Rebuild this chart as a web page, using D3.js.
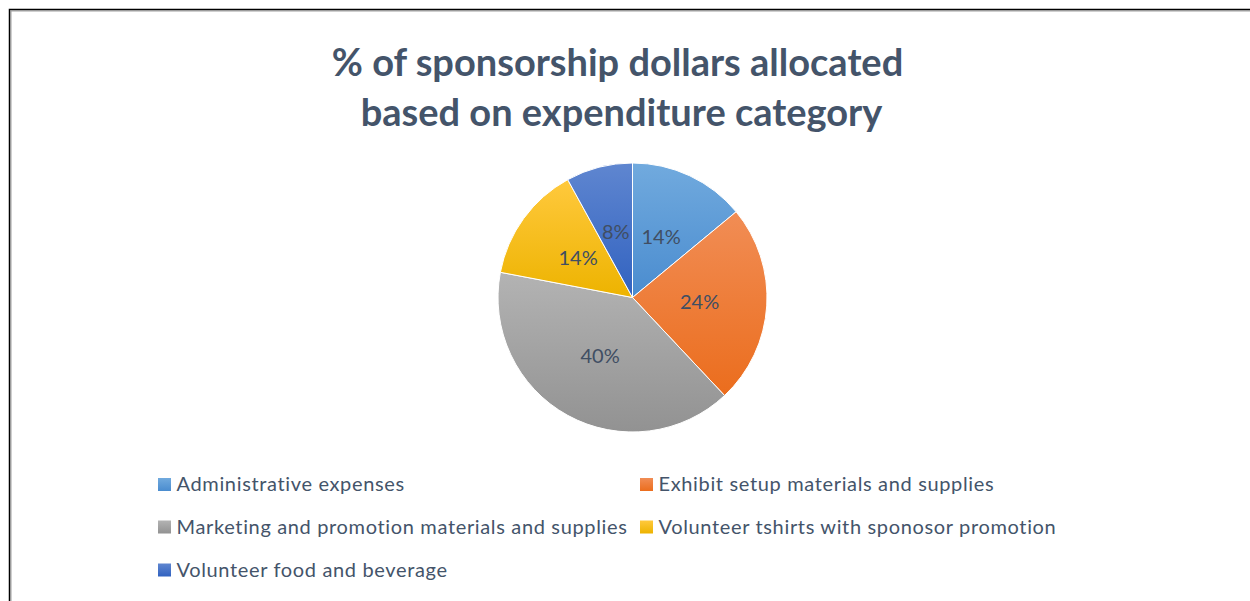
<!DOCTYPE html>
<html>
<head>
<meta charset="utf-8">
<script src="https://cdn.jsdelivr.net/npm/d3@7"></script>
<style>
  body { margin: 0; background: #fff; }
  svg { display: block; font-family: Lato, 'Open Sans', sans-serif; }
</style>
</head>
<body>
<svg id="chart" width="1250" height="601"></svg>
<script>
var categories = [
  'Administrative expenses',
  'Exhibit setup materials and supplies',
  'Marketing and promotion materials and supplies',
  'Volunteer tshirts with sponosor promotion',
  'Volunteer food and beverage'
];
var shares = [14, 24, 40, 14, 8];
var titleLines = ['% of sponsorship dollars allocated', 'based on expenditure category'];

// office-ish fills, light at top -> dark at bottom
var fills = [
  ['#71aade', '#4a8ccf'],
  ['#f18d55', '#eb6d1d'],
  ['#b3b3b3', '#929292'],
  ['#ffc93d', '#edb300'],
  ['#5f86d0', '#3162c0']
];
var textColor = '#44546a';

var svg = d3.select('#chart');

// frame
svg.append('path').attr('d', 'M11,601 V11 H1250').attr('fill', 'none')
  .attr('stroke', '#a0a0a0').attr('stroke-width', 1);
svg.append('path').attr('d', 'M9.5,601 V9.5 H1250').attr('fill', 'none')
  .attr('stroke', '#000').attr('stroke-width', 1.5);

// title
svg.append('g').selectAll('text')
  .data(titleLines)
  .enter().append('text')
  .attr('x', function(d, i) { return i == 0 ? 617.5 : 621.5; })
  .attr('y', function(d, i) { return 76 + i * 50; })
  .attr('text-anchor', 'middle')
  .attr('font-size', 38)
  .attr('font-weight', 'bold')
  .attr('fill', textColor)
  .text(function(d) { return d; });

// gradients
var defs = svg.append('defs');
fills.forEach(function(f, i) {
  var g = defs.append('linearGradient').attr('id', 'grad' + i)
    .attr('x1', 0).attr('y1', 0).attr('x2', 0).attr('y2', 1);
  g.append('stop').attr('offset', '0%').attr('stop-color', f[0]);
  g.append('stop').attr('offset', '100%').attr('stop-color', f[1]);
});

// pie
var cx = 632.5, cy = 297.5, radius = 134.5;
var pie = d3.pie().sort(null).value(function(d) { return d; });
var arcs = pie(shares);
var arc = d3.arc().innerRadius(0).outerRadius(radius);
var labelArc = d3.arc().innerRadius(radius * 0.5).outerRadius(radius * 0.5);

var g = svg.append('g').attr('transform', 'translate(' + cx + ',' + cy + ')');

g.selectAll('.slice')
  .data(arcs)
  .enter().append('path')
  .attr('class', 'slice')
  .attr('d', arc)
  .attr('fill', function(d, i) { return 'url(#grad' + i + ')'; })
  .attr('stroke', '#fff')
  .attr('stroke-width', 1);

g.selectAll('.lbl')
  .data(arcs)
  .enter().append('text')
  .attr('class', 'lbl')
  .attr('transform', function(d) { return 'translate(' + labelArc.centroid(d) + ')'; })
  .attr('text-anchor', 'middle')
  .attr('dy', '0.35em')
  .attr('font-size', 20)
  .attr('fill', '#404e63')
  .text(function(d) { return d.data + '%'; });

// legend: two columns, rows flow left->right
var colX = [158, 640];
var rowY = [478, 520.5, 563.5];
var legend = svg.append('g').selectAll('.legend')
  .data(categories)
  .enter().append('g')
  .attr('class', 'legend')
  .attr('transform', function(d, i) {
    return 'translate(' + colX[i % 2] + ',' + rowY[Math.floor(i / 2)] + ')';
  });

legend.append('rect')
  .attr('width', 13).attr('height', 13)
  .attr('fill', function(d, i) { return 'url(#grad' + i + ')'; });

legend.append('text')
  .attr('x', 18.5)
  .attr('y', 13)
  .attr('font-size', 20)
  .attr('letter-spacing', 0.65)
  .attr('fill', textColor)
  .text(function(d) { return d; });
</script>
</body>
</html>
